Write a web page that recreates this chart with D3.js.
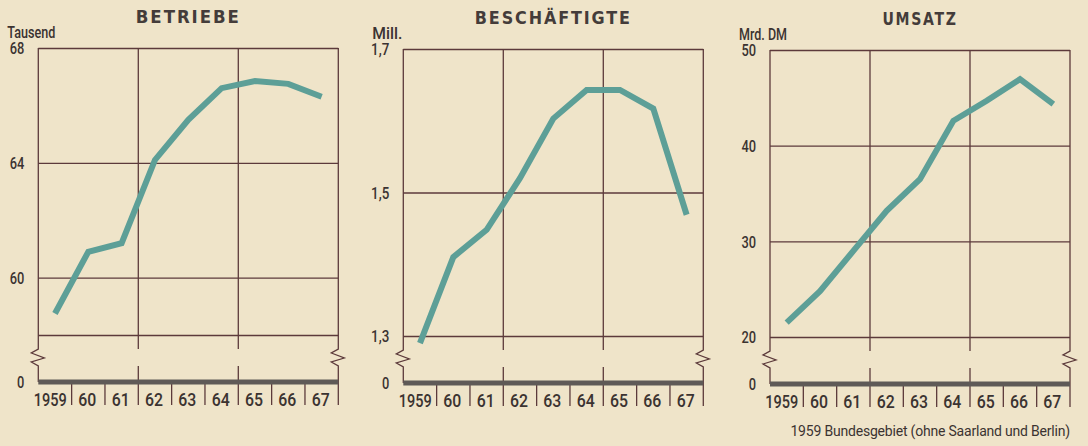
<!DOCTYPE html>
<html>
<head>
<meta charset="utf-8">
<script src="https://cdn.jsdelivr.net/npm/d3@7"></script>
<style>
  body { margin: 0; background: #efe4c9; }
  svg { display: block; }
</style>
</head>
<body>
<script>

// data
var years = ['1959', '60', '61', '62', '63', '64', '65', '66', '67'];

var betriebe      = [58.75, 60.9, 61.2, 64.1, 65.5, 66.6, 66.85, 66.75, 66.3];
var beschaeftigte = [1.29, 1.41, 1.448, 1.52, 1.603, 1.643, 1.643, 1.617, 1.469];
var umsatz        = [21.5, 24.8, 29.0, 33.2, 36.5, 42.6, 44.7, 46.95, 44.35];

var titles = ['BETRIEBE', 'BESCHÄFTIGTE', 'UMSATZ'];
var units  = ['Tausend', 'Mill.', 'Mrd. DM'];

var ticks1 = [58, 60, 64, 68];
var tickLabels1 = ['', '60', '64', '68'];
var ticks2 = [1.3, 1.5, 1.7];
var tickLabels2 = ['1,3', '1,5', '1,7'];
var ticks3 = [20, 30, 40, 50];
var tickLabels3 = ['20', '30', '40', '50'];

var footnote = '1959 Bundesgebiet (ohne Saarland und Berlin)';


var W = 1088, H = 446;

var ink = '#3b3331';
var gridColor = '#5c3a3b';
var lineColor = '#5d9f97';
var baseColor = '#5f5a57';
var numFont = 'Roboto, "Liberation Sans", Arial, sans-serif';

// layout
var panelLeft  = [38.3, 403.3, 770];
var panelShift = [0, 1, 2];          // scan is slightly tilted
var panelW = 300;
var plotTop = 48;
var gridBottom = 335;
var breakTop = 349;
var breakBottom = 366;
var base = 382;
var tickBottom = 405;

var titleWidth = [105, 157, 75];
var unitWidth  = [48, 30, 48];

function numWidth(s) {
	var w = 0;
	for (var i = 0; i < s.length; i++) {
		w += (s[i] === ',') ? 3.6 : 7.3;
	}
	return w;
}

var svg = d3.select('body')
		.append('svg')
		.attr('width', W)
		.attr('height', H);

svg.append('rect')
		.attr('width', W)
		.attr('height', H)
		.attr('fill', '#efe4c9');

var panels = [
	{ values: betriebe,      ticks: ticks1, labels: tickLabels1 },
	{ values: beschaeftigte, ticks: ticks2, labels: tickLabels2 },
	{ values: umsatz,        ticks: ticks3, labels: tickLabels3 }
];

panels.forEach(function (p, k) {

	var g = svg.append('g')
			.attr('transform', 'translate(' + panelLeft[k] + ',' + panelShift[k] + ')');

	var x = d3.scaleBand()
			.domain(years)
			.range([0, panelW]);

	var y = d3.scaleLinear()
			.domain([d3.min(p.ticks), d3.max(p.ticks)])
			.range([gridBottom, plotTop]);

	// horizontal grid + y labels
	var yAxis = g.append('g')
			.call(d3.axisLeft(y)
				.tickValues(p.ticks)
				.tickSize(-panelW)
				.tickFormat(function (d, i) { return p.labels[i]; }));

	yAxis.select('.domain').remove();

	yAxis.selectAll('line')
			.attr('stroke', gridColor)
			.attr('stroke-width', 1.3);

	yAxis.selectAll('text')
			.attr('x', -14)
			.attr('dy', '0.36em')
			.attr('fill', ink)
			.attr('font-family', numFont)
			.attr('font-weight', 500)
			.attr('font-size', 16.5)
			.attr('textLength', function () { return numWidth(this.textContent); })
			.attr('lengthAdjust', 'spacingAndGlyphs');

	// left and right frame with break mark
	[0, panelW].forEach(function (ax) {
		var path = d3.path();
		path.moveTo(ax, plotTop);
		path.lineTo(ax, breakTop);
		path.lineTo(ax - 7, breakTop + 4);
		path.lineTo(ax + 6, breakTop + 9);
		path.lineTo(ax - 7, breakTop + 13);
		path.lineTo(ax, breakBottom);
		path.lineTo(ax, base);
		g.append('path')
				.attr('d', path.toString())
				.attr('fill', 'none')
				.attr('stroke', gridColor)
				.attr('stroke-width', 1.3);
	});

	// column lines every three years
	[3, 6].forEach(function (i) {
		var cx = x(years[i]);
		g.append('line')
				.attr('x1', cx).attr('x2', cx)
				.attr('y1', plotTop).attr('y2', breakTop)
				.attr('stroke', gridColor)
				.attr('stroke-width', 1.3);
		g.append('line')
				.attr('x1', cx).attr('x2', cx)
				.attr('y1', breakBottom).attr('y2', base)
				.attr('stroke', gridColor)
				.attr('stroke-width', 1.3);
	});

	// year separators below the base
	years.forEach(function (yr) {
		var sx = x(yr) + x.step();
		g.append('line')
				.attr('x1', sx).attr('x2', sx)
				.attr('y1', base).attr('y2', tickBottom)
				.attr('stroke', gridColor)
				.attr('stroke-width', 1.3);
	});

	// thick zero line
	g.append('line')
			.attr('x1', 0).attr('x2', panelW)
			.attr('y1', base).attr('y2', base)
			.attr('stroke', baseColor)
			.attr('stroke-width', 5);

	g.append('text')
			.attr('x', -14)
			.attr('y', base + 6)
			.attr('text-anchor', 'end')
			.attr('fill', ink)
			.attr('font-family', numFont)
			.attr('font-weight', 500)
			.attr('font-size', 16.5)
			.attr('textLength', 7.3)
			.attr('lengthAdjust', 'spacingAndGlyphs')
			.text('0');

	// year labels
	var xAxis = g.append('g')
			.attr('transform', 'translate(0,' + base + ')')
			.call(d3.axisBottom(x).tickSize(0));

	xAxis.select('.domain').remove();

	xAxis.selectAll('text')
			.attr('y', 24)
			.attr('dy', 0)
			.attr('fill', ink)
			.attr('font-family', numFont)
			.attr('font-size', 19)
			.attr('font-weight', 500)
			.attr('textLength', function (d) { return d.length > 2 ? 33 : 18; })
			.attr('lengthAdjust', 'spacingAndGlyphs')
			.attr('text-anchor', function (d, i) { return i === 0 ? 'end' : 'middle'; })
			.attr('x', function (d, i) { return i === 0 ? x.bandwidth() / 2 - 5 : -1; });

	// the series
	var line = d3.line()
			.x(function (d, i) { return x(years[i]) + x.bandwidth() / 2; })
			.y(function (d) { return y(d); });

	g.append('path')
			.datum(p.values)
			.attr('d', line)
			.attr('fill', 'none')
			.attr('stroke', lineColor)
			.attr('stroke-width', 6);

	// title
	g.append('text')
			.attr('x', panelW / 2)
			.attr('y', 23)
			.attr('text-anchor', 'middle')
			.attr('fill', '#443c3a')
			.attr('font-family', '"DejaVu Sans", sans-serif')
			.attr('font-weight', 'bold')
			.attr('font-size', 17)
			.attr('textLength', titleWidth[k])
			.attr('lengthAdjust', 'spacingAndGlyphs')
			.attr('letter-spacing', 2)
			.text(titles[k]);

	// unit
	g.append('text')
			.attr('x', -31)
			.attr('y', 37.5)
			.attr('fill', ink)
			.attr('font-family', numFont)
			.attr('font-weight', 500)
			.attr('font-size', 17)
			.attr('textLength', unitWidth[k])
			.attr('lengthAdjust', 'spacingAndGlyphs')
			.text(units[k]);
});

// footnote
svg.append('text')
		.attr('x', 1070)
		.attr('y', 436)
		.attr('text-anchor', 'end')
		.attr('fill', ink)
		.attr('font-family', numFont)
		.attr('font-size', 14)
		.attr('letter-spacing', -0.2)
		.text(footnote);

</script>
</body>
</html>
